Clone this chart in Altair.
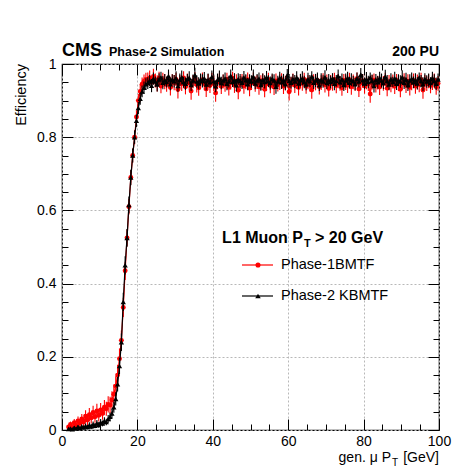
import altair as alt
import pandas as pd

# ---------------- data ----------------
# bin centres of the gen. muon pT histogram (0.5 GeV bins)
pt_bins = [1.75 + 0.5 * i for i in range(197)]

# Phase-2 KBMTF (black)
black_low = [0.003, 0.004, 0.002, 0.006, 0.004, 0.008, 0.005, 0.009, 0.007, 0.011,
             0.008, 0.013, 0.010, 0.015, 0.012, 0.018, 0.014]
black_turn = [0.021, 0.018, 0.025, 0.022, 0.030, 0.036, 0.045, 0.062, 0.085, 0.125,
              0.175, 0.240, 0.350, 0.450, 0.525, 0.615, 0.690, 0.750, 0.800, 0.845,
              0.880, 0.905, 0.925, 0.935, 0.945]
black_plateau = [
    0.948, 0.955, 0.941, 0.960, 0.952, 0.944, 0.958, 0.963, 0.949, 0.956,
    0.951, 0.967, 0.945, 0.958, 0.953, 0.961, 0.940, 0.957, 0.964, 0.950,
    0.946, 0.959, 0.962, 0.943, 0.955, 0.970, 0.952, 0.947, 0.958, 0.954,
    0.961, 0.944, 0.956, 0.950, 0.965, 0.953, 0.939, 0.957, 0.962, 0.948,
    0.955, 0.960, 0.946, 0.952, 0.968, 0.951, 0.957, 0.942, 0.959, 0.954,
    0.949, 0.963, 0.956, 0.945, 0.958, 0.952, 0.966, 0.947, 0.955, 0.960,
    0.943, 0.957, 0.951, 0.964, 0.953, 0.948, 0.960, 0.955, 0.938, 0.952,
    0.962, 0.950, 0.957, 0.945, 0.969, 0.954, 0.949, 0.959, 0.952, 0.963,
    0.947, 0.956, 0.961, 0.951, 0.944, 0.958, 0.953, 0.966, 0.949, 0.955,
    0.960, 0.942, 0.957, 0.952, 0.964, 0.948, 0.956, 0.951, 0.961, 0.946,
    0.954, 0.967, 0.950, 0.958, 0.943, 0.955, 0.962, 0.949, 0.957, 0.953,
    0.945, 0.960, 0.952, 0.971, 0.956, 0.947, 0.959, 0.951, 0.963, 0.954,
    0.940, 0.957, 0.950, 0.962, 0.955, 0.948, 0.966, 0.953, 0.944, 0.958,
    0.951, 0.961, 0.946, 0.956, 0.952, 0.964, 0.949, 0.958, 0.942, 0.955,
    0.960, 0.950, 0.957, 0.947, 0.963, 0.953, 0.945, 0.959, 0.952, 0.956,
    0.948, 0.962, 0.954, 0.946, 0.958]
# uncertainties in units of 0.001
black_err_low = [3, 4, 3, 5, 4, 6, 5, 6, 5, 7, 6, 8, 7, 8, 7, 9, 8]
black_err_turn = [9, 8, 10, 9, 11, 12, 13, 15, 18, 20, 22, 24, 25, 25, 24, 23, 21, 19, 18, 17,
                  17, 16, 16, 17, 16]
black_err_plateau = [
    16, 15, 18, 17, 14, 19, 17, 16, 18, 17, 15, 18, 17, 14, 17, 19, 16, 17, 18, 15,
    17, 14, 18, 17, 16, 20, 17, 17, 16, 18, 17, 16, 18, 14, 17, 18, 16, 17, 20, 17,
    16, 17, 18, 16, 17, 14, 18, 17, 16, 19, 17, 18, 16, 17, 14, 17, 19, 16, 18, 17,
    16, 17, 18, 17, 16, 18, 14, 17, 19, 16, 17, 18, 16, 17, 17, 19, 16, 14, 18, 17,
    16, 17, 19, 17, 16, 18, 17, 14, 17, 18, 17, 16, 18, 17, 19, 16, 17, 17, 14, 18,
    16, 18, 17, 16, 17, 19, 17, 16, 18, 14, 17, 17, 16, 18, 17, 16, 19, 17, 14, 17,
    18, 16, 17, 17, 19, 16, 18, 17, 16, 17, 14, 18, 17, 16, 17, 19, 17, 18, 16, 17,
    17, 16, 18, 17, 14, 17, 19, 16, 17, 18, 16, 17, 18, 17, 16]

# Phase-1 BMTF (red)
red_low = [0.008, 0.015, 0.006, 0.020, 0.012, 0.025, 0.018, 0.030, 0.022, 0.038,
           0.027, 0.042, 0.033, 0.048, 0.036, 0.052, 0.040]
red_turn = [0.055, 0.045, 0.062, 0.058, 0.070, 0.068, 0.082, 0.098, 0.120, 0.150,
            0.195, 0.245, 0.335, 0.435, 0.525, 0.610, 0.690, 0.750, 0.800, 0.855,
            0.900, 0.925, 0.945, 0.952, 0.958]
red_plateau = [
    0.958, 0.962, 0.950, 0.966, 0.955, 0.947, 0.961, 0.940, 0.957, 0.952,
    0.944, 0.960, 0.936, 0.953, 0.949, 0.958, 0.930, 0.951, 0.946, 0.962,
    0.938, 0.955, 0.948, 0.926, 0.952, 0.959, 0.943, 0.935, 0.950, 0.957,
    0.946, 0.932, 0.954, 0.941, 0.958, 0.947, 0.921, 0.950, 0.955, 0.939,
    0.952, 0.944, 0.958, 0.936, 0.949, 0.961, 0.942, 0.953, 0.928, 0.947,
    0.955, 0.940, 0.950, 0.957, 0.934, 0.948, 0.959, 0.945, 0.951, 0.938,
    0.949, 0.955, 0.931, 0.946, 0.958, 0.941, 0.952, 0.937, 0.954, 0.944,
    0.950, 0.957, 0.939, 0.948, 0.953, 0.924, 0.945, 0.956, 0.942, 0.951,
    0.936, 0.954, 0.947, 0.958, 0.940, 0.950, 0.945, 0.929, 0.953, 0.948,
    0.955, 0.938, 0.949, 0.957, 0.943, 0.952, 0.933, 0.950, 0.946, 0.958,
    0.941, 0.953, 0.947, 0.935, 0.955, 0.949, 0.942, 0.957, 0.938, 0.951,
    0.946, 0.959, 0.932, 0.948, 0.954, 0.940, 0.951, 0.945, 0.918, 0.950,
    0.956, 0.943, 0.949, 0.937, 0.953, 0.947, 0.958, 0.934, 0.950, 0.944,
    0.952, 0.939, 0.955, 0.946, 0.931, 0.949, 0.957, 0.942, 0.953, 0.936,
    0.948, 0.955, 0.940, 0.951, 0.944, 0.957, 0.929, 0.950, 0.946, 0.953,
    0.941, 0.949, 0.956, 0.938, 0.947]
red_err_low = [6, 8, 6, 10, 9, 12, 10, 14, 12, 16, 14, 18, 15, 18, 16, 20, 17]
red_err_turn = [19, 17, 20, 19, 22, 23, 24, 26, 27, 28, 28, 27, 26, 25, 23, 21, 20, 19, 19, 18,
                18, 19, 18, 19, 18]
red_err_plateau = [
    19, 20, 18, 21, 19, 22, 18, 20, 19, 21, 20, 18, 22, 19, 21, 18, 24, 19, 20, 18,
    21, 19, 20, 24, 18, 19, 21, 22, 19, 20, 18, 22, 19, 20, 18, 21, 24, 19, 20, 21,
    19, 20, 18, 22, 19, 18, 21, 19, 24, 20, 18, 21, 19, 20, 22, 19, 18, 21, 19, 22,
    20, 19, 22, 20, 18, 21, 19, 22, 20, 19, 21, 18, 21, 20, 19, 24, 20, 18, 21, 19,
    22, 19, 20, 18, 21, 19, 20, 24, 19, 20, 18, 21, 20, 18, 21, 19, 22, 20, 19, 18,
    21, 19, 20, 22, 18, 20, 21, 19, 22, 20, 20, 18, 22, 20, 19, 21, 20, 19, 24, 20,
    18, 21, 19, 22, 19, 20, 18, 22, 20, 21, 19, 21, 18, 20, 22, 19, 18, 21, 19, 22,
    20, 19, 21, 20, 21, 19, 24, 20, 20, 19, 21, 20, 18, 22, 20]

x_major = [0, 20, 40, 60, 80, 100]
x_ticks = [0, 5, 10, 15, 20, 25, 30, 35, 40, 45, 50, 55, 60, 65, 70, 75, 80, 85, 90, 95, 100]
y_major = [0, 0.2, 0.4, 0.6, 0.8, 1.0]
y_ticks = [0, 0.05, 0.1, 0.15, 0.2, 0.25, 0.3, 0.35, 0.4, 0.45, 0.5, 0.55, 0.6, 0.65,
           0.7, 0.75, 0.8, 0.85, 0.9, 0.95, 1.0]

# ---------------- build ----------------
def table(eff, err):
    return pd.DataFrame({
        "pt": pt_bins,
        "eff": eff,
        "lo": [max(e - r / 1000.0, 0.0) for e, r in zip(eff, err)],
        "hi": [min(e + r / 1000.0, 1.0) for e, r in zip(eff, err)],
    })

df_black = table(black_low + black_turn + black_plateau,
                 black_err_low + black_err_turn + black_err_plateau)
df_red = table(red_low + red_turn + red_plateau,
               red_err_low + red_err_turn + red_err_plateau)

W, H = 377, 366
FONT = "Liberation Sans"
xs = alt.Scale(domain=[0, 100], nice=False, zero=False)
ys = alt.Scale(domain=[0, 1], nice=False, zero=False)


def series(df, color, shape, size):
    base = alt.Chart(df)
    X = alt.X("pt:Q", scale=xs, axis=None)
    err = base.mark_rule(color=color, strokeWidth=1.1).encode(
        x=X, y=alt.Y("lo:Q", scale=ys, axis=None), y2="hi:Q")
    line = base.mark_line(color=color, strokeWidth=1.2).encode(
        x=X, y=alt.Y("eff:Q", scale=ys, axis=None))
    pts = base.mark_point(color=color, shape=shape, filled=True, size=size, opacity=1).encode(
        x=X, y=alt.Y("eff:Q", scale=ys, axis=None))
    return [err, line, pts]


ytick_size = {"condition": {"test": "abs(datum.value*5 - round(datum.value*5)) < 0.001", "value": 11}, "value": 6}
xtick_size = {"condition": {"test": "abs(datum.value % 20) < 0.001", "value": 11}, "value": 6}

grid_layer = alt.Chart(df_black).mark_point(opacity=0).encode(
    x=alt.X("pt:Q", scale=xs, title=None, axis=alt.Axis(
        orient="bottom", values=x_major, ticks=False, tickSize=0, domain=False, grid=True,
        gridDash=[2, 2], gridColor="#b8b8b8", gridWidth=1, labelFontSize=14, labelFont=FONT,
        labelColor="black", labelPadding=4, labelFlush=False, title=None)),
    y=alt.Y("eff:Q", scale=ys, title=None, axis=alt.Axis(
        orient="left", values=y_major, ticks=False, tickSize=0, domain=False, grid=True,
        gridDash=[2, 2], gridColor="#b8b8b8", gridWidth=1, labelFontSize=14, labelFont=FONT,
        labelColor="black", labelPadding=6, labelFlush=False, title=None,
        labelExpr="datum.value == 0 ? '0' : (datum.value == 1 ? '1' : format(datum.value, '.1f'))")),
)

ticks_a = alt.Chart(df_black).mark_point(opacity=0).encode(
    x=alt.X("pt:Q", scale=xs, title=None, axis=alt.Axis(
        orient="top", offset=-H, values=x_ticks, labels=False, domain=False, grid=False,
        tickColor="black", tickWidth=1, tickSize=xtick_size, title=None)),
    y=alt.Y("eff:Q", scale=ys, title=None, axis=alt.Axis(
        orient="right", offset=-W, values=y_ticks, labels=False, domain=False, grid=False,
        tickColor="black", tickWidth=1, tickSize=ytick_size, title=None)),
)
ticks_b = alt.Chart(df_black).mark_point(opacity=0).encode(
    x=alt.X("pt:Q", scale=xs, title=None, axis=alt.Axis(
        orient="bottom", offset=-H, values=x_ticks, labels=False, domain=False, grid=False,
        tickColor="black", tickWidth=1, tickSize=xtick_size, title=None)),
    y=alt.Y("eff:Q", scale=ys, title=None, axis=alt.Axis(
        orient="left", offset=-W, values=y_ticks, labels=False, domain=False, grid=False,
        tickColor="black", tickWidth=1, tickSize=ytick_size, title=None)),
)

one = pd.DataFrame({"a": [0]})


def txt(text, x, y, size, weight="normal", align="left", baseline="alphabetic", angle=0):
    return alt.Chart(one).mark_text(
        text=text, fontSize=size, fontWeight=weight, align=align, baseline=baseline,
        angle=angle, color="black", font=FONT).encode(x=alt.value(x), y=alt.value(y))


texts = [
    txt("CMS", 0, -8, 18, "bold"),
    txt("Phase-2 Simulation", 47, -8, 12.5, "bold"),
    txt("200 PU", W, -8, 14, "bold", align="right"),
    txt("Efficiency", -40, 0, 14.5, align="right", baseline="middle", angle=270),
    txt("gen. μ P", 329, 398, 14, align="right"),
    txt("T", 330, 402, 10),
    txt("[GeV]", W, 398, 14, align="right"),
    txt("L1 Muon P", 241, 179, 16, "bold", align="right"),
    txt("T", 242, 183, 11, "bold"),
    txt("> 20 GeV", 253, 179, 16, "bold"),
    txt("Phase-1BMTF", 219, 201, 14.5, baseline="middle"),
    txt("Phase-2 KBMTF", 219, 232, 14.5, baseline="middle"),
]

leg_red_line = alt.Chart(one).mark_rule(color="red", strokeWidth=1.2).encode(
    x=alt.value(180), x2=alt.value(211), y=alt.value(201))
leg_red_pt = alt.Chart(one).mark_point(color="red", shape="circle", filled=True, size=26, opacity=1).encode(
    x=alt.value(196), y=alt.value(201))
leg_blk_line = alt.Chart(one).mark_rule(color="black", strokeWidth=1.2).encode(
    x=alt.value(180), x2=alt.value(211), y=alt.value(232))
leg_blk_pt = alt.Chart(one).mark_point(color="black", shape="triangle-up", filled=True, size=30, opacity=1).encode(
    x=alt.value(196), y=alt.value(232))

layers = ([grid_layer]
          + series(df_red, "#ff0000", "circle", 24)
          + series(df_black, "#000000", "triangle-up", 28)
          + [ticks_a, ticks_b, leg_red_line, leg_red_pt, leg_blk_line, leg_blk_pt]
          + texts)

chart = alt.layer(*layers).resolve_axis(
    x="independent", y="independent"
).properties(
    width=W, height=H,
    padding={"left": 62, "top": 64, "right": 15, "bottom": 41},
    autosize=alt.AutoSizeParams(type="none"),
    background="white",
).configure_view(stroke="black", strokeWidth=1.2)

chart.save("out.html", embed_options={"renderer": "svg", "actions": False})
